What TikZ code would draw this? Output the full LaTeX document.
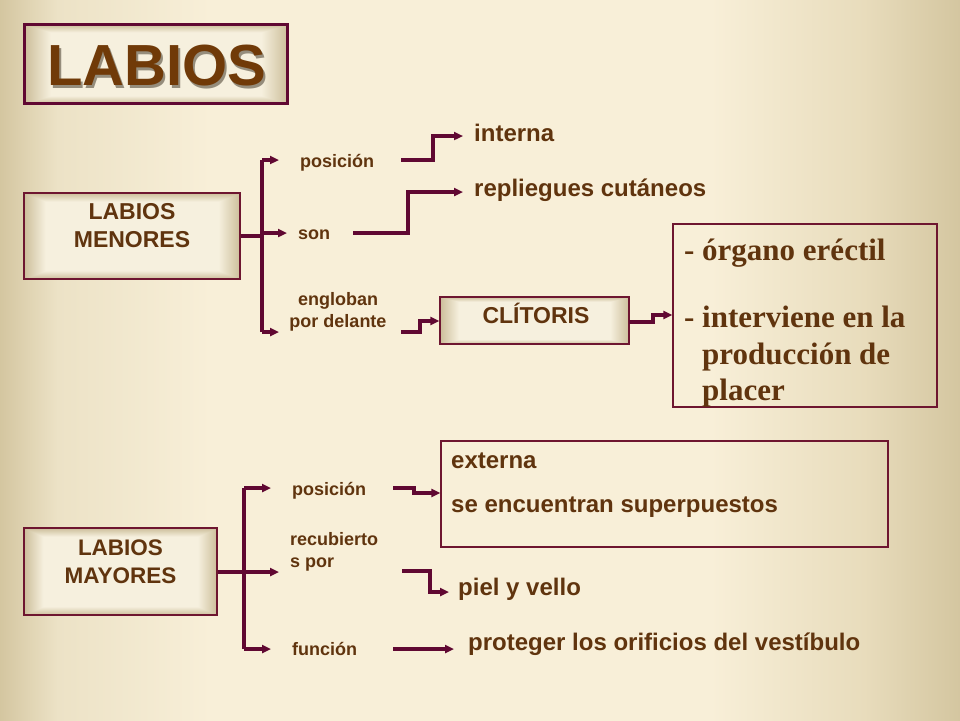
\documentclass[tikz,border=0pt]{standalone}
\usepackage{fontspec}
\setmainfont{Liberation Sans}
\newfontfamily\tms{Liberation Serif}
\usetikzlibrary{arrows.meta}
\definecolor{bgA}{RGB}{212,198,160}
\definecolor{bgB}{RGB}{236,226,198}
\definecolor{bgC}{RGB}{248,239,216}
\definecolor{bgD}{RGB}{232,220,188}
\definecolor{lnc}{RGB}{96,8,50}
\definecolor{txt}{RGB}{96,52,14}
\definecolor{ttl}{RGB}{112,58,8}
\definecolor{shd}{RGB}{70,60,45}
\definecolor{bdr}{RGB}{110,22,48}
\pgfdeclarehorizontalshading{bgshade}{100bp}{color(0bp)=(bgA); color(25bp)=(bgA); color(28bp)=(bgB); color(36bp)=(bgC); color(62bp)=(bgC); color(70bp)=(bgD); color(75bp)=(bgA); color(100bp)=(bgA)}
\pgfdeclarefunctionalshading{bevel}{\pgfpoint{0bp}{0bp}}{\pgfpoint{100bp}{100bp}}{}{
  50 sub abs 25 exch sub
  exch 50 sub abs 25 exch sub
  2 copy gt {exch} if pop
  5 div dup 1 gt {pop 1} if dup 0 lt {pop 0} if
  dup dup
  0.165 mul 0.800 add
  3 1 roll
  0.196 mul 0.745 add
  exch
  0.267 mul 0.604 add
}
\tikzset{
  ln/.style={draw=lnc, line width=3.2pt},
  arr/.style={ln, -{Triangle[length=9pt,width=8pt]}},
  bevbox/.style={draw=bdr, line width=1.3pt, shading=bevel, rectangle, inner sep=0pt},
  plainbox/.style={draw=bdr, line width=1.2pt, rectangle, inner sep=0pt},
  lbl/.style={text=txt, font=\bfseries\fontsize{18}{22}\selectfont, inner sep=0pt},
  big/.style={text=txt, font=\bfseries\fontsize{24}{28}\selectfont, inner sep=0pt},
  boxtxt/.style={text=txt, font=\bfseries\fontsize{23}{28}\selectfont, inner sep=0pt, align=center},
  serif/.style={text=txt, font=\tms\bfseries\fontsize{31}{36}\selectfont, inner sep=0pt},
}
\begin{document}
\begin{tikzpicture}[x=1pt,y=-1pt]
\useasboundingbox (0,0) rectangle (960,720);
\shade[shading=bgshade] (0,0) rectangle (960,720);

% title
\node[bevbox, draw=lnc, line width=3pt, minimum width=263pt, minimum height=79pt] (tbox) at (156,64) {};
\node[text=shd, opacity=0.55, font=\bfseries\fontsize{58}{60}\selectfont, inner sep=0pt] (tshadow) at (159,68.5) {LABIOS};
\node[text=ttl, font=\bfseries\fontsize{58}{60}\selectfont, inner sep=0pt] (ttext) at (157,65.5) {LABIOS};

% ---------- LABIOS MENORES ----------
\node[bevbox, minimum width=216pt, minimum height=86pt] (men) at (132,236) {};
\node[boxtxt] (mentxt) at (132,225.5) {LABIOS\\MENORES};

\node[lbl, anchor=base west] (p1) at (300,167) {posición};
\node[lbl, anchor=base west] (son) at (298,239) {son};
\node[lbl, align=center, anchor=base] (eng) at (338,327) {engloban\\por delante};

\node[big, anchor=base west] (int) at (474,141) {interna};
\node[big, anchor=base west] (rep) at (474,196) {repliegues cutáneos};

\node[bevbox, minimum width=189pt, minimum height=47pt] (cli) at (534.5,320.5) {};
\node[big, anchor=base, font=\bfseries\fontsize{23}{28}\selectfont] (clitxt) at (536,323) {CLÍTORIS};

\node[plainbox, minimum width=264pt, minimum height=183pt] (org) at (805,315.5) {};
\node[serif, anchor=base west] (d1) at (684,260) {-};
\node[serif, anchor=base west] (o1) at (702,260) {órgano eréctil};
\node[serif, anchor=base west] (d2) at (684,327) {-};
\node[serif, anchor=base west] (o2) at (702,327) {interviene en la};
\node[serif, anchor=base west] (o3) at (702,364) {producción de};
\node[serif, anchor=base west] (o4) at (702,400) {placer};

% connectors (menores)
\coordinate (jm) at (262,236);
\coordinate (jmt) at (262,160);
\coordinate (jmb) at (262,332);
\draw[ln] (men.east) -- (jm);
\draw[ln] (jmt) -- (jmb);
\draw[arr] (jmt) -- (279,160);
\draw[arr] (262,233) -- (287,233);
\draw[arr] (jmb) -- (279,332);

\coordinate (s1) at (401,160);
\draw[arr] (s1) -- (433,160) -- (433,136) -- (463,136);
\coordinate (s2) at (353,233);
\draw[arr] (s2) -- (408,233) -- (408,192) -- (463,192);
\coordinate (s3) at (401,332);
\draw[arr] (s3) -- (420,332) -- (420,321) -- (cli.west |- 0,321);
\coordinate (s4) at (629,322);
\draw[arr] (s4) -- (653,322) -- (653,315) -- (org.west |- 0,315);

% ---------- LABIOS MAYORES ----------
\node[bevbox, minimum width=193pt, minimum height=87pt] (may) at (120.5,571.5) {};
\node[boxtxt, font=\bfseries\fontsize{22.5}{28}\selectfont] (maytxt) at (120.5,562) {LABIOS\\MAYORES};

\node[lbl, anchor=base west] (p2) at (292,495) {posición};
\node[lbl, anchor=base west, align=left] (rec) at (290,567) {recubierto\\s por};
\node[lbl, anchor=base west] (fun) at (292,655) {función};

\node[plainbox, minimum width=447pt, minimum height=106pt] (ext) at (664.5,494) {};
\node[big, anchor=base west] (e1) at (451,468) {externa};
\node[big, anchor=base west] (e2) at (451,512) {se encuentran superpuestos};
\node[big, anchor=base west] (piel) at (458,595) {piel y vello};
\node[big, anchor=base west] (prot) at (468,650) {proteger los orificios del vestíbulo};

\coordinate (jy) at (244,572);
\coordinate (jyt) at (244,488);
\coordinate (jyb) at (244,649);
\draw[ln] (may.east |- jy) -- (jy);
\draw[ln] (jyt) -- (jyb);
\draw[arr] (jyt) -- (271,488);
\draw[arr] (jy) -- (279,572);
\draw[arr] (jyb) -- (271,649);

\coordinate (s5) at (393,488);
\draw[arr] (s5) -- (414,488) -- (414,493) -- (ext.west |- 0,493);
\coordinate (s6) at (402,571);
\draw[arr] (s6) -- (430,571) -- (430,592) -- (449,592);
\coordinate (s7) at (393,649);
\draw[arr] (s7) -- (454,649);
\end{tikzpicture}
\end{document}
